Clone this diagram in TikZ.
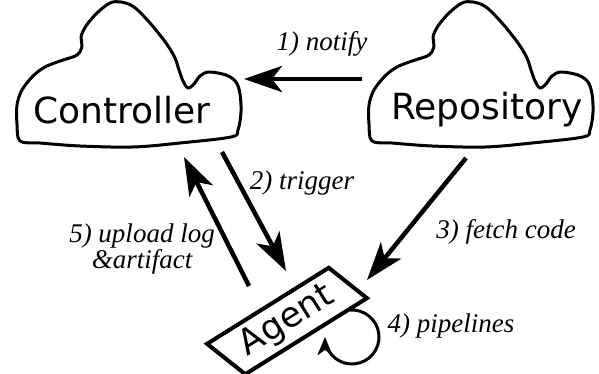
\documentclass[tikz,border=0pt]{standalone}
\usepackage{fontspec}
\setmainfont{Liberation Serif}
\newfontfamily\dvsans{DejaVu Sans}
\usetikzlibrary{arrows.meta,shapes.geometric}

\tikzset{
  cloudline/.style={line width=3pt, line join=round},
  cloudtext/.style={font=\dvsans\fontsize{36}{40}\selectfont, inner sep=0pt},
  conn/.style={line width=4.5pt, -{Stealth[length=38pt,width=26pt,inset=10pt]}},
  loopconn/.style={line width=3pt, -{Stealth[length=18pt,width=15pt,inset=5pt]}},
  lbl/.style={font=\itshape\fontsize{27}{23}\selectfont, align=center, inner sep=0pt},
  agentbox/.style={draw, line width=4pt, trapezium, trapezium left angle=112,
    trapezium right angle=68, trapezium stretches=true, minimum width=160pt,
    minimum height=46pt, inner sep=0pt, rotate=32,
    font=\dvsans\fontsize{35}{38}\selectfont},
}

\newcommand{\cloudshape}{plot[smooth cycle, tension=0.55] coordinates {
  (77,55) (82,46) (81,37) (86,26) (97,13) (110,3) (121,2) (134,7) (150,23)
  (166,43) (175,58) (179,70) (183,81) (188,88) (194,84) (200,76) (209,72)
  (226,75) (236,82) (240,94) (241,112) (238,130) (231,137) (180,143)
  (133,147) (80,146) (40,143) (20,141) (17,124) (17,105) (22,90) (33,76)
  (45,67) (60,61)}}

\begin{document}
\begin{tikzpicture}[x=1pt, y=-1pt]
  \useasboundingbox (0,0) rectangle (599,374);

  % clouds
  \draw[cloudline] \cloudshape;
  \draw[cloudline, xshift=352pt] \cloudshape;
  \node[cloudtext] (controller) at (122,110) {Controller};
  \node[cloudtext] (repository) at (487,110) {Repository};

  % agent
  \node[agentbox] (agent) at (287,321) {Agent};

  % connector end points
  \coordinate (notifyS) at (362,79);
  \coordinate (notifyE) at (244,79);
  \coordinate (trigS) at (222,152);
  \coordinate (trigE) at (286,271);
  \coordinate (fetchS) at (466,158);
  \coordinate (fetchE) at (367,280);
  \coordinate (upS) at (249,286);
  \coordinate (upE) at (184,157);
  \coordinate (loopC) at (352,337);

  \draw[conn] (notifyS) -- (notifyE);
  \draw[conn] (trigS) -- (trigE);
  \draw[conn] (fetchS) -- (fetchE);
  \draw[conn] (upS) -- (upE);
  \draw[loopconn] ([shift={(-95:27)}]loopC) arc[start angle=-95, end angle=180, radius=27];

  % labels
  \node[lbl] (l1) at (322,44) {1) notify};
  \node[lbl] (l2) at (302,183) {2) trigger};
  \node[lbl] (l3) at (506,232) {3) fetch code};
  \node[lbl] (l4) at (451,326) {4) pipelines};
  \node[lbl] (l5) at (142,249) {5) upload log\\\&artifact};
\end{tikzpicture}
\end{document}
